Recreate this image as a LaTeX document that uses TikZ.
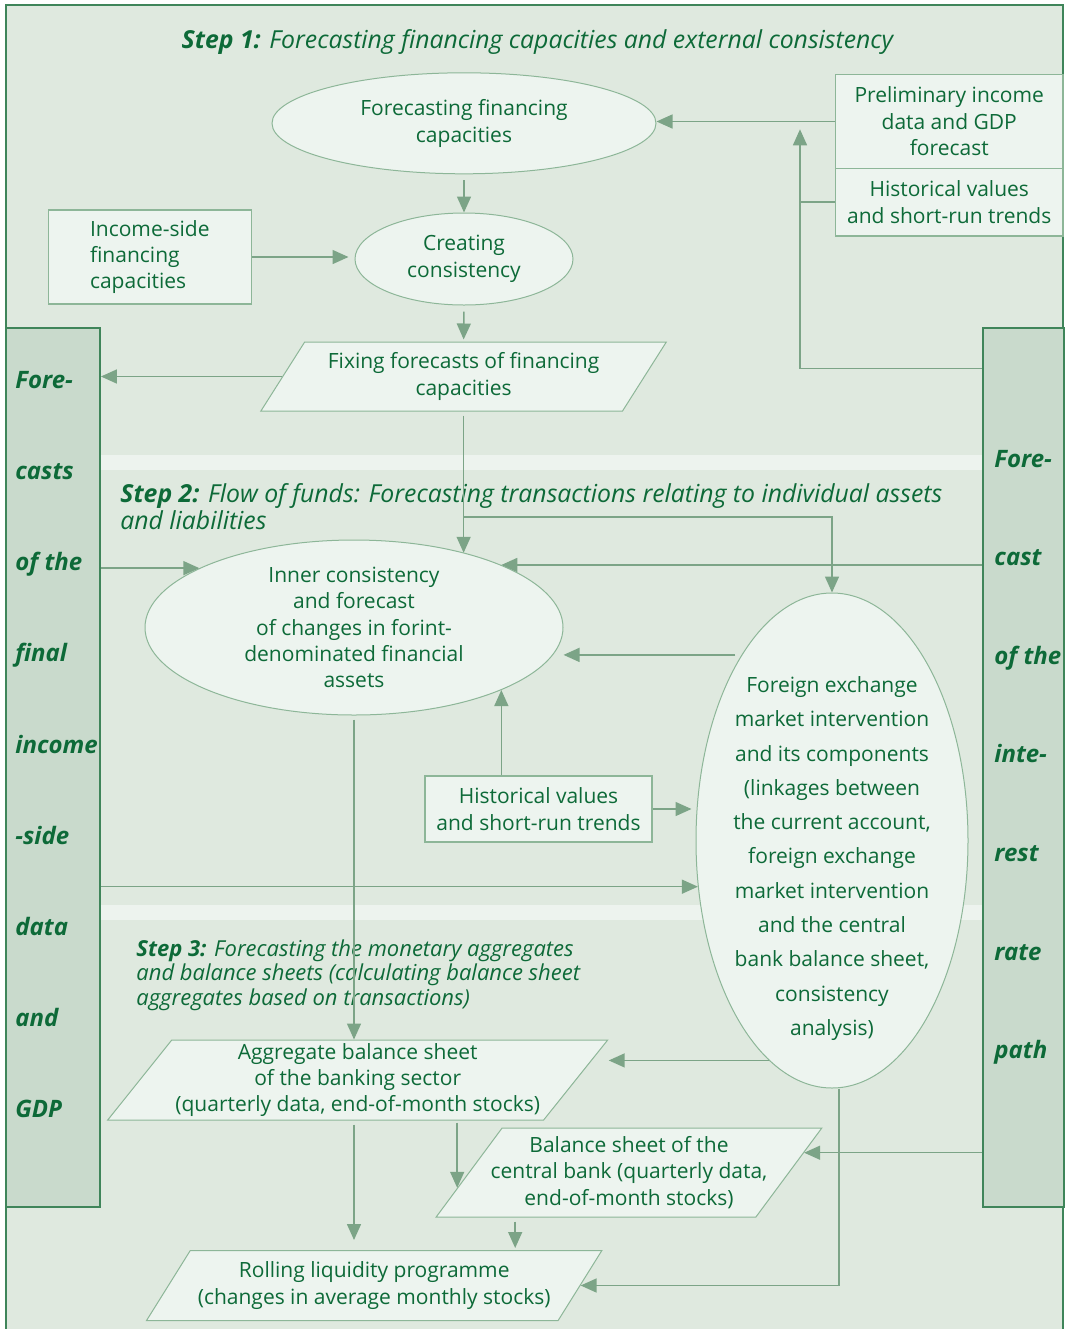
\documentclass[tikz,border=0pt]{standalone}
\usepackage{fontspec}
\setmainfont{Open Sans}
\usetikzlibrary{shapes.geometric,arrows.meta,positioning,calc}

\definecolor{bgfill}{HTML}{DFE9DF}
\definecolor{nodefill}{HTML}{EDF4EF}
\definecolor{barfill}{HTML}{C9DACC}
\definecolor{stripfill}{HTML}{EDF3EE}
\definecolor{framegreen}{HTML}{3F855A}
\definecolor{nodeline}{HTML}{8DB698}
\definecolor{arrowgreen}{HTML}{7CA487}
\definecolor{txtgreen}{HTML}{0D6A38}

\newcommand\bodyfont{\fontsize{10.5}{13.2}\selectfont}
\newcommand\titlefont{\fontsize{12.4}{13.3}\selectfont\itshape}
\newcommand\subtitlefont{\fontsize{11}{12.25}\selectfont\itshape}
\newcommand\barfont{\fontsize{12}{14}\selectfont\bfseries\itshape}

\tikzset{
  box/.style={draw=nodeline,fill=nodefill,text=txtgreen,font=\bodyfont,align=center,
              inner sep=1pt,line width=0.55pt},
  oval/.style={ellipse,draw=nodeline,fill=nodefill,text=txtgreen,font=\bodyfont,align=center,
               inner sep=0pt,line width=0.5pt},
  slant/.style={trapezium,trapezium stretches=true,draw=nodeline,fill=nodefill,text=txtgreen,
                font=\bodyfont,align=center,inner sep=0pt,line width=0.5pt},
  bar/.style={draw=framegreen,fill=barfill,line width=0.9pt,inner sep=0pt},
  arr/.style={-{Triangle[length=8pt,width=7pt]},draw=arrowgreen,line width=0.75pt},
  link/.style={draw=arrowgreen,line width=0.75pt},
}

\begin{document}
\begin{tikzpicture}[x=0.5pt,y=-0.5pt,
  bartext/.style={font=\barfont,text=txtgreen,anchor=base west,inner sep=0pt},
  steptitle/.style={text=txtgreen,align=left,inner sep=0pt},
  ovaltext/.style={text=txtgreen,font=\fontsize{10.5}{17.15}\selectfont,align=center,inner sep=0pt},
]
  \useasboundingbox (0,0) rectangle (1065,1329);

  %% ── Background, frame and bands ─────────────────────────────────────────
  \fill[bgfill] (6,5) rectangle (1063,1340);
  \draw[framegreen,line width=0.9pt] (6,1340) -- (6,5) -- (1063,5) -- (1063,1340);
  \fill[stripfill] (100,455) rectangle (983,470);
  \fill[stripfill] (100,905) rectangle (983,920);

  %% ── Side bars ───────────────────────────────────────────────────────────
  \node[bar,minimum width=47pt,minimum height=439.5pt] (lbar) at (53,767.5) {};
  \node[bar,minimum width=40.5pt,minimum height=439.5pt] (rbar) at (1023.5,767.5) {};
  \foreach \w [count=\i from 0] in {Fore-,casts,of the,final,income,-side,data,and,GDP}
    \node[bartext] (lw\i) at (15,388.3+91.2*\i) {\w};
  \foreach \w [count=\i from 0] in {Fore-,cast,of the,inte-,rest,rate,path}
    \node[bartext] (rw\i) at (994,467+98.6*\i) {\w};

  %% ── Step titles ─────────────────────────────────────────────────────────
  \node[steptitle,font=\titlefont,anchor=base] (step1) at (537.5,48.3)
    {\textbf{Step 1:} Forecasting financing capacities and external consistency};
  \node[steptitle,font=\titlefont,anchor=north west] (step2) at (120,483.5)
    {\textbf{Step 2:} Flow of funds: Forecasting transactions relating to individual assets\\and liabilities};
  \node[steptitle,font=\subtitlefont,anchor=north west] (step3) at (136,939)
    {\textbf{Step 3:} Forecasting the monetary aggregates\\and balance sheets (calculating balance sheet\\aggregates based on transactions)};

  %% ── Step 1 nodes ────────────────────────────────────────────────────────
  \node[oval,minimum width=192pt,minimum height=50.5pt] (ffc) at (464,123.3)
    {Forecasting financing\\capacities};
  \node[box,minimum width=113.75pt,minimum height=46.8pt] (prelim) at (949.25,121.5)
    {Preliminary income\\data and GDP\\forecast};
  \node[box,minimum width=113.75pt,minimum height=33.85pt] (hist1) at (949.25,202.15)
    {Historical values\\and short-run trends};
  \node[box,align=left,minimum width=101.5pt,minimum height=47pt] (income) at (149.8,257)
    {Income-side\\financing\\capacities};
  \node[oval,minimum width=109pt,minimum height=46pt] (create) at (464,259)
    {Creating\\consistency};
  \node[slant,trapezium left angle=51.8,trapezium right angle=128.2,
        minimum width=203pt,minimum height=34.5pt] (fix) at (463.6,376.5)
    {Fixing forecasts of financing\\capacities};

  %% ── Step 2 nodes ────────────────────────────────────────────────────────
  \node[oval,minimum width=209pt,minimum height=87.5pt] (inner) at (354,627.5)
    {Inner consistency\\and forecast\\of changes in forint-\\denominated financial\\assets};
  \node[box,minimum width=113.5pt,minimum height=33pt] (hist2) at (538.5,809)
    {Historical values\\and short-run trends};
  \node[oval,minimum width=136pt,minimum height=247.5pt] (fx) at (832,840.5) {};
  \node[ovaltext] (fxtext) at ([yshift=-9pt]fx.center)
    {Foreign exchange\\market intervention\\and its components\\(linkages between\\the current account,\\foreign exchange\\market intervention\\and the central\\bank balance sheet,\\consistency\\analysis)};

  %% ── Step 3 nodes ────────────────────────────────────────────────────────
  \node[slant,trapezium left angle=49.6,trapezium right angle=130.4,
        minimum width=250.3pt,minimum height=40pt] (agg) at (357.7,1080)
    {Aggregate balance sheet\\of the banking sector\\(quarterly data, end-of-month stocks)};
  \node[slant,inner xsep=-9pt,trapezium left angle=49.1,trapezium right angle=130.9,
        minimum width=193pt,minimum height=44.5pt] (cbs) at (629,1172.5)
    {Balance sheet of the\\central bank (quarterly data,\\end-of-month stocks)};
  \node[slant,trapezium left angle=48.5,trapezium right angle=131.5,
        minimum width=227.8pt,minimum height=35pt] (roll) at (374.2,1285.5)
    {Rolling liquidity programme\\(changes in average monthly stocks)};

  %% ── Helper points ───────────────────────────────────────────────────────
  \coordinate (upjoin) at (800,129.3);
  \coordinate (yfeed) at (0,368.3);
  \coordinate (ybranch) at (0,517);
  \coordinate (cbsleft) at ($(cbs.bottom left corner)!0.33!(cbs.top left corner)$);
  \coordinate (cbsright) at ($(cbs.top right corner)!0.28!(cbs.bottom right corner)$);
  \coordinate (cbsdrop) at ([xshift=40pt]cbs.bottom left corner);
  \coordinate (fxfoot) at ([xshift=3.5pt]fx.south);

  %% ── Step 1 connectors ───────────────────────────────────────────────────
  \draw[arr] (prelim.west) -- (prelim.west -| ffc.east);
  \draw[arr] (rbar.west |- yfeed) -| (upjoin);
  \draw[link] (hist1.west) -- (hist1.west -| upjoin);
  \draw[arr,shorten <=3pt] (ffc.south) -- (create.north);
  \draw[arr,shorten >=3pt] (income.east) -- (income.east -| create.west);
  \draw[arr,shorten <=3pt,shorten >=1pt] (create.south) -- (fix.north);
  \draw[arr] (fix.west) -- (fix.west -| lbar.east);

  %% ── Step 2 connectors ───────────────────────────────────────────────────
  \draw[arr,shorten <=2pt] (fix.south) -- (fix.south |- inner.34);
  \draw[arr] (fix.south |- ybranch) -| (fx.north);
  \draw[arr] (lbar.east |- inner.159) -- (inner.159);
  \draw[arr] (rbar.west |- inner.23) -- (inner.23);
  \draw[arr,shorten <=3pt] (fx.116) -- (fx.116 -| inner.east);
  \draw[arr] (hist2.north -| inner.-23) -- (inner.-23);
  \draw[arr,shorten >=2pt] (hist2.east) -- (hist2.east -| fx.west);
  \draw[arr] (lbar.east |- fx.199) -- (fx.199);

  %% ── Step 3 connectors ───────────────────────────────────────────────────
  \draw[arr,shorten <=2pt] (inner.south) -- (inner.south |- agg.north);
  \draw[arr] (fx.254) -- (fx.254 -| agg.top right corner);
  \draw[arr,shorten <=1pt] (agg.south -| cbsleft) -- (cbsleft);
  \draw[arr,shorten <=2pt,shorten >=5pt] (inner.south |- agg.south) -- (inner.south |- roll.north);
  \draw[arr,shorten <=2pt,shorten >=1pt] (cbsdrop) -- (cbsdrop |- roll.north);
  \draw[arr] (rbar.west |- cbsright) -- (cbsright);
  \draw[arr] (fxfoot) |- (roll.east);
\end{tikzpicture}
\end{document}
